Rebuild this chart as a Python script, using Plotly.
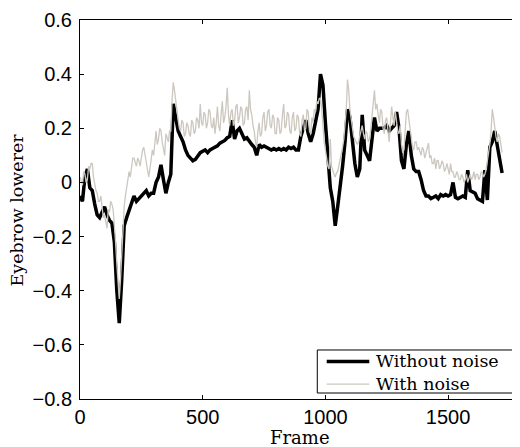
import plotly.graph_objects as go

# ---- data ----
frames_clean = list(range(0, 1721, 10))
frames_noisy = list(range(0, 1721, 5))

without_noise = [
    -0.05, -0.07, 0.02, 0.05, -0.02, -0.03, -0.08, -0.12, -0.13, -0.11,   # 0-90
    -0.09, -0.12, -0.14, -0.15, -0.22, -0.40, -0.52, -0.36, -0.16, -0.13,  # 100-190
    -0.10, -0.07, -0.05, -0.07, -0.06, -0.05, -0.04, -0.03, -0.05, -0.04,  # 200-290
    -0.04, 0.00, 0.02, 0.065, 0.01, -0.04, 0.00, 0.03, 0.29, 0.24,         # 300-390
    0.19, 0.17, 0.15, 0.12, 0.10, 0.09, 0.08, 0.085, 0.10, 0.11,           # 400-490
    0.115, 0.12, 0.11, 0.12, 0.125, 0.13, 0.135, 0.145, 0.15, 0.155,       # 500-590
    0.165, 0.17, 0.23, 0.16, 0.19, 0.20, 0.18, 0.16, 0.165, 0.15,          # 600-690
    0.14, 0.13, 0.10, 0.14, 0.13, 0.135, 0.13, 0.125, 0.12, 0.125,         # 700-790
    0.12, 0.125, 0.12, 0.125, 0.12, 0.13, 0.125, 0.13, 0.12, 0.12,         # 800-890
    0.17, 0.20, 0.23, 0.18, 0.15, 0.18, 0.22, 0.27, 0.40, 0.36,            # 900-990
    0.22, 0.09, -0.02, -0.07, -0.16, -0.09, -0.02, 0.06, 0.15, 0.27,       # 1000-1090
    0.24, 0.14, 0.07, 0.02, 0.05, 0.25, 0.12, 0.10, 0.08, 0.16,            # 1100-1190
    0.24, 0.19, 0.20, 0.20, 0.20, 0.21, 0.19, 0.20, 0.21, 0.26,            # 1200-1290
    0.20, 0.08, 0.05, 0.14, 0.19, 0.10, 0.05, 0.04, 0.04, 0.01,            # 1300-1390
    -0.03, -0.05, -0.05, -0.06, -0.055, -0.05, -0.06, -0.045, -0.05, -0.045,  # 1400-1490
    -0.05, -0.045, 0.00, -0.055, -0.06, -0.055, -0.05, -0.055, 0.045, -0.03,  # 1500-1590
    -0.035, -0.04, -0.06, -0.065, -0.07, 0.045, -0.065, 0.13, 0.15, 0.19,     # 1600-1690
    0.14, 0.095, 0.035,                                                      # 1700-1720
]

with_noise = [
    0.02, 0.00, -0.01, 0.04, 0.03, 0.00, 0.01, 0.06, 0.05, 0.07,            # 0-45
    0.07, 0.02, -0.01, -0.03, -0.04, -0.07, -0.07, -0.05, -0.09, -0.13,     # 50-95
    -0.12, -0.15, -0.17, -0.10, -0.11, -0.07, -0.08, -0.10, -0.15, -0.22,   # 100-145
    -0.30, -0.38, -0.43, -0.36, -0.25, -0.15, -0.09, -0.05, -0.02, 0.02,    # 150-195
    0.04, 0.02, 0.06, 0.09, 0.09, 0.07, 0.06, 0.09, 0.08, 0.06,             # 200-245
    0.10, 0.12, 0.13, 0.10, 0.07, 0.04, 0.02, 0.05, 0.08, 0.12,             # 250-295
    0.10, 0.15, 0.19, 0.14, 0.16, 0.20, 0.19, 0.15, 0.12, 0.10,             # 300-345
    0.18, 0.16, 0.15, 0.19, 0.19, 0.30, 0.37, 0.34, 0.30, 0.25,             # 350-395
    0.23, 0.20, 0.19, 0.23, 0.22, 0.17, 0.18, 0.22, 0.21, 0.18,             # 400-445
    0.17, 0.23, 0.22, 0.18, 0.19, 0.24, 0.23, 0.20, 0.29, 0.22,             # 450-495
    0.21, 0.26, 0.25, 0.20, 0.22, 0.27, 0.26, 0.21, 0.20, 0.24,             # 500-545
    0.18, 0.22, 0.28, 0.21, 0.19, 0.25, 0.30, 0.22, 0.24, 0.28,             # 550-595
    0.35, 0.25, 0.21, 0.26, 0.27, 0.21, 0.23, 0.28, 0.29, 0.22,             # 600-645
    0.24, 0.28, 0.27, 0.21, 0.22, 0.27, 0.28, 0.23, 0.34, 0.27,             # 650-695
    0.25, 0.21, 0.19, 0.15, 0.13, 0.19, 0.22, 0.17, 0.18, 0.24,             # 700-745
    0.26, 0.19, 0.21, 0.26, 0.27, 0.21, 0.20, 0.25, 0.24, 0.18,             # 750-795
    0.18, 0.24, 0.23, 0.18, 0.19, 0.25, 0.29, 0.20, 0.21, 0.26,             # 800-845
    0.25, 0.19, 0.18, 0.24, 0.26, 0.19, 0.20, 0.25, 0.24, 0.18,             # 850-895
    0.17, 0.23, 0.25, 0.19, 0.20, 0.27, 0.26, 0.19, 0.18, 0.24,             # 900-945
    0.22, 0.27, 0.26, 0.30, 0.29, 0.31, 0.31, 0.27, 0.20, 0.15,             # 950-995
    0.12, 0.09, 0.06, 0.05, 0.16, 0.06, 0.04, 0.03, 0.02, 0.035,            # 1000-1045
    0.04, 0.06, 0.08, 0.11, 0.13, 0.16, 0.21, 0.27, 0.38, 0.34,             # 1050-1095
    0.27, 0.24, 0.20, 0.17, 0.16, 0.15, 0.14, 0.15, 0.17, 0.19,             # 1100-1145
    0.21, 0.18, 0.16, 0.19, 0.18, 0.15, 0.16, 0.20, 0.24, 0.30,             # 1150-1195
    0.34, 0.27, 0.29, 0.25, 0.22, 0.27, 0.26, 0.20, 0.18, 0.23,             # 1200-1245
    0.24, 0.19, 0.15, 0.22, 0.28, 0.24, 0.21, 0.26, 0.22, 0.19,             # 1250-1295
    0.18, 0.21, 0.14, 0.11, 0.12, 0.19, 0.26, 0.27, 0.23, 0.19,             # 1300-1345
    0.16, 0.13, 0.12, 0.15, 0.15, 0.12, 0.13, 0.11, 0.10, 0.13,             # 1350-1395
    0.12, 0.09, 0.11, 0.13, 0.145, 0.09, 0.10, 0.07, 0.07, 0.09,            # 1400-1445
    0.05, 0.08, 0.08, 0.05, 0.06, 0.08, 0.07, 0.04, 0.05, 0.07,             # 1450-1495
    0.045, 0.03, 0.07, 0.04, 0.04, 0.02, 0.02, 0.04, 0.03, 0.01,            # 1500-1545
    0.01, 0.03, 0.02, 0.00, 0.01, 0.03, 0.00, 0.02, 0.03, 0.01,             # 1550-1595
    0.02, 0.04, 0.01, 0.03, 0.03, 0.01, 0.02, 0.04, 0.035, 0.02,            # 1600-1645
    0.03, 0.05, 0.08, 0.11, 0.14, 0.19, 0.27, 0.24, 0.20, 0.17,             # 1650-1695
    0.15, 0.18, 0.17, 0.14, 0.11,                                           # 1700-1720
]

series_names = ["Without noise", "With noise"]
series_colors = ["black", "rgb(204,200,192)"]
series_widths = [3.5, 1.3]
x_ticks = [0, 500, 1000, 1500]
y_ticks = [-0.8, -0.6, -0.4, -0.2, 0, 0.2, 0.4, 0.6]
y_tick_text = ["\u22120.8", "\u22120.6", "\u22120.4", "\u22120.2", "0", "0.2", "0.4", "0.6"]
x_title = "Frame"
y_title = "Eyebrow lowerer"

# ---- figure ----
fig = go.Figure()
fig.add_trace(go.Scatter(x=frames_clean, y=without_noise, mode="lines", name=series_names[0],
                         line=dict(color=series_colors[0], width=series_widths[0]),
                         showlegend=False))
fig.add_trace(go.Scatter(x=frames_noisy, y=with_noise, mode="lines", name=series_names[1],
                         line=dict(color=series_colors[1], width=series_widths[1]),
                         showlegend=False))
# helper (empty) trace so the right-hand tick axis is drawn
fig.add_trace(go.Scatter(x=[], y=[], yaxis="y2", showlegend=False, hoverinfo="skip"))

tick_font = dict(family="Liberation Sans, Arial, sans-serif", size=20, color="black")
serif = "DejaVu Serif, serif"

# boxed legend in the lower-right corner (MATLAB style)
legend_shapes = [
    dict(type="rect", xref="paper", yref="paper", x0=0.5393, x1=0.9984,
         y0=0.0158, y1=0.1293, line=dict(color="black", width=1), fillcolor="white"),
]
legend_rows_y = [0.0989, 0.0390]
for color, width, ry in zip(series_colors, series_widths, legend_rows_y):
    legend_shapes.append(dict(type="line", xref="paper", yref="paper", x0=0.5607, x1=0.6575,
                              y0=ry, y1=ry, line=dict(color=color, width=width)))
legend_text = dict(text="<br>".join(series_names), xref="paper", yref="paper",
                   x=0.6705, y=0.0705, xanchor="left", yanchor="middle", align="left",
                   showarrow=False, borderpad=0,
                   font=dict(family=serif, size=17.5, color="black"))

fig.update_layout(
    width=512, height=439,
    margin=dict(l=72, r=0, t=12, b=48),
    paper_bgcolor="white", plot_bgcolor="white",
    showlegend=False,
    xaxis=dict(range=[0, 1793], tickvals=x_ticks, ticks="inside", ticklen=4,
               tickcolor="black", showline=True, linecolor="black", linewidth=1,
               mirror="ticks", showgrid=False, zeroline=False, tickfont=tick_font),
    yaxis=dict(range=[-0.8, 0.6], tickvals=y_ticks, ticktext=y_tick_text,
               ticks="inside", ticklen=4, tickcolor="black", showline=True,
               linecolor="black", linewidth=1, showgrid=False, zeroline=False,
               tickfont=tick_font, ticklabelstandoff=3),
    yaxis2=dict(range=[-0.8, 0.6], tickvals=y_ticks, overlaying="y", side="right",
                anchor="x", ticks="inside", ticklen=4, tickcolor="black",
                showline=False, showgrid=False, zeroline=False, showticklabels=False),
    shapes=legend_shapes,
    annotations=[
        dict(text=x_title, xref="paper", yref="paper", x=0.5, y=-0.1016,
             xanchor="center", yanchor="middle", showarrow=False,
             font=dict(family=serif, size=18, color="black")),
        dict(text=y_title, xref="paper", yref="paper", x=-0.1432, y=0.5,
             xanchor="center", yanchor="middle", showarrow=False, textangle=-90,
             font=dict(family=serif, size=17.5, color="black")),
        legend_text,
    ],
)

fig.write_html("out.html")
